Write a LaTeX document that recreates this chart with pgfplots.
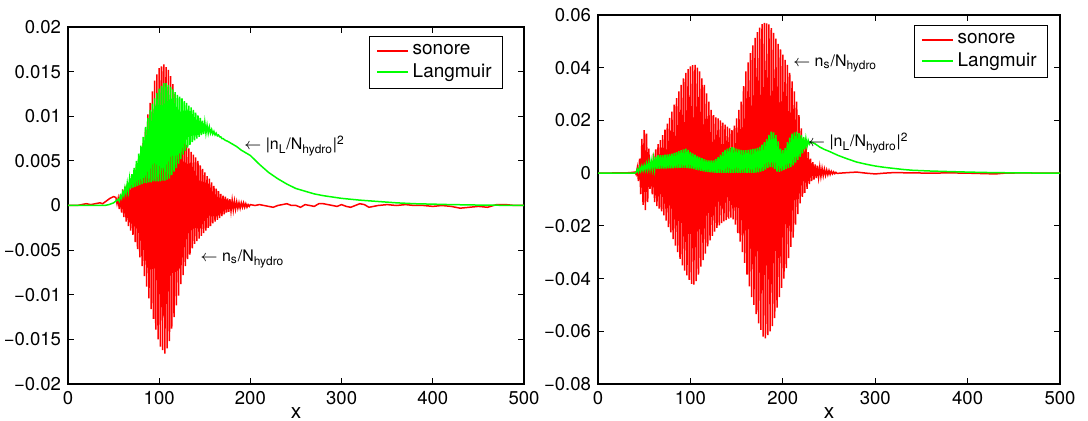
\documentclass[border=0pt]{standalone}
\usepackage{fontspec}
\setmainfont{TeX Gyre Heros}
\usepackage{pgfplots}
\pgfplotsset{compat=1.18}
\definecolor{mred}{RGB}{255,0,0}
\definecolor{mgreen}{RGB}{0,255,0}
\pgfplotsset{
  mstyle/.style={
    scale only axis, clip=true,
    xmin=0, xmax=500,
    xtick={0,100,200,300,400,500},
    xticklabels={0,100,200,300,400,500},
    scaled ticks=false,
    tick align=inside,
    major tick length=3bp,
    axis line style={line width=0.6bp},
    every tick/.style={black, line width=0.5bp},
    tick label style={font=\fontsize{9.3}{10}\selectfont},
    xlabel={x},
    xlabel style={font=\fontsize{10.5}{11}\selectfont, at={(axis description cs:0.5,0)}, anchor=base, yshift=-17bp},
    legend cell align=left,
    legend image code/.code={\draw[#1] (0bp,0bp) -- (15.5bp,0bp);},
    legend style={font=\fontsize{9.5}{10}\selectfont,
      inner xsep=3.5bp, inner ysep=2bp, row sep=-1bp, anchor=north east},
    every axis plot/.append style={line width=0.75bp},
  }
}
\begin{document}
\begin{tikzpicture}
\useasboundingbox (0,0) rectangle (544bp,210.5bp);
% ---------------- left panel ----------------
\begin{axis}[mstyle,
  at={(34bp,18.5bp)}, anchor=south west,
  width=228bp, height=178.5bp,
  ymin=-0.02, ymax=0.02,
  ytick={-0.02,-0.015,-0.01,-0.005,0,0.005,0.01,0.015,0.02},
  yticklabels={−0.02,−0.015,−0.01,−0.005,0,0.005,0.01,0.015,0.02},
  legend style={at={(0.954,0.975)}},
]
\addlegendimage{color=mred, line width=0.75bp}
\addlegendentry{sonore}
\addlegendimage{color=mgreen, line width=0.75bp}
\addlegendentry{Langmuir}
\addplot[color=mred, forget plot] coordinates {
(0,0) (5,0) (10,0) (15,0.0001) (20,0.0002) (25,0.0001) (30,0.0002) (35,0.0003) (38,0.0002) (42,0.0005) (46,0.0008) (50,0.001)
(52.5,0.0009) (53.75,0.0002) (55,0.0008) (56.25,-0.0004) (57.5,0.0012) (58.75,-0.0008) (60,0.0018) (61.25,-0.0013)
(62.5,0.0021) (63.75,-0.0018) (65,0.0024) (66.25,-0.0023) (67.5,0.0027) (68.75,-0.0028) (70,0.003) (71.25,-0.0033)
(72.5,0.0036) (73.75,-0.0041) (75,0.0043) (76.25,-0.0049) (77.5,0.0051) (78.75,-0.0058) (80,0.006) (81.25,-0.0068)
(82.5,0.007) (83.75,-0.0079) (85,0.0085) (86.25,-0.0091) (87.5,0.0102) (88.75,-0.0104) (90,0.0115) (91.25,-0.0116)
(92.5,0.0128) (93.75,-0.0127) (95,0.014) (96.25,-0.0139) (97.5,0.0147) (98.75,-0.015) (100,0.0154) (101.25,-0.0158)
(102.5,0.0156) (103.75,-0.0162) (105,0.0158) (106.25,-0.0166) (107.5,0.0155) (108.75,-0.016) (110,0.0152) (111.25,-0.0152)
(112.5,0.0145) (113.75,-0.0138) (115,0.0136) (116.25,-0.0125) (117.5,0.0125) (118.75,-0.0112) (120,0.011) (121.25,-0.0101)
(122.5,0.0098) (123.75,-0.0088) (125,0.0085) (126.25,-0.0078) (127.5,0.0076) (128.75,-0.0068) (130,0.0068) (131.25,-0.006)
(132.5,0.0064) (133.75,-0.0055) (135,0.006) (136.25,-0.0048) (137.5,0.0057) (138.75,-0.0043) (140,0.0054) (141.25,-0.004)
(142.5,0.005) (143.75,-0.0037) (145,0.0045) (146.25,-0.0034) (147.5,0.0041) (148.75,-0.0031) (150,0.0037) (151.25,-0.0028)
(152.5,0.0033) (153.75,-0.0025) (155,0.003) (156.25,-0.0023) (157.5,0.0026) (158.75,-0.002) (160,0.0022) (161.25,-0.0018)
(162.5,0.0019) (163.75,-0.0016) (165,0.0016) (166.25,-0.0014) (167.5,0.0013) (168.75,-0.0012) (170,0.0011) (171.25,-0.001)
(172.5,0.001) (173.75,-0.0008) (175,0.0008) (176.25,-0.0007) (177.5,0.0007) (178.75,-0.0006) (180,0.0006) (181.25,-0.0005)
(182.5,0.0005) (183.75,-0.0004) (185,0.0004) (186.25,-0.0003) (187.5,0.0003) (188.75,-0.0003) (190,0.0003) (191.25,-0.0002)
(192.5,0.0003) (193.75,-0.0002) (195,0.0002) (196.25,-0.0002) (197.5,0.0001) (198.75,-0.0001) (200,0.0001)
(205,0) (210,0.0001) (215,0) (220,-0.0001) (225,-0.0002) (230,0) (235,0.0001) (240,0.0002) (245,0) (250,0) (255,-0.0002)
(260,0.0001) (265,0) (270,-0.0001) (275,0.0002) (280,0.0002) (285,0.0001) (290,0) (295,-0.0001) (300,0.0001) (305,-0.0001)
(310,-0.0002) (315,0) (320,0.0002) (325,0.0001) (330,-0.0002) (335,-0.0001) (340,0) (350,0.0001) (360,0) (370,0.0001)
(380,0) (390,0) (400,-0.0001) (410,0) (420,-0.0001) (430,-0.0003) (440,-0.0002) (450,-0.0001) (460,-0.0002) (470,0.0001)
(480,0.0001) (490,0) (500,0)
};
\addplot[color=mgreen, forget plot] coordinates {
(0,0) (10,0) (20,0) (30,0) (40,0) (45,0.0001) (50,0.0003) (52.5,0.0005)
(55,0.0007) (56.25,0.0005) (57.5,0.0011) (58.75,0.0008) (60,0.0015) (61.25,0.0011) (62.5,0.002) (63.75,0.0014)
(65,0.0025) (66.25,0.0016) (67.5,0.003) (68.75,0.0019) (70,0.0035) (71.25,0.002) (72.5,0.0042) (73.75,0.0021)
(75,0.005) (76.25,0.0022) (77.5,0.0058) (78.75,0.0023) (80,0.0067) (81.25,0.0024) (82.5,0.0077) (83.75,0.0025)
(85,0.0088) (86.25,0.0025) (87.5,0.0098) (88.75,0.0026) (90,0.0107) (91.25,0.0026) (92.5,0.0114) (93.75,0.0027)
(95,0.012) (96.25,0.0027) (97.5,0.0126) (98.75,0.0027) (100,0.0131) (101.25,0.0027) (102.5,0.0134) (103.75,0.0028)
(105,0.0137) (106.25,0.0028) (107.5,0.0137) (108.75,0.0029) (110,0.0135) (111.25,0.003) (112.5,0.0133) (113.75,0.0034)
(115,0.013) (116.25,0.0038) (117.5,0.0127) (118.75,0.0042) (120,0.0124) (121.25,0.0047) (122.5,0.0122) (123.75,0.0052)
(125,0.012) (126.25,0.0057) (127.5,0.0117) (128.75,0.0061) (130,0.0115) (131.25,0.0065) (132.5,0.0112) (133.75,0.0068)
(135,0.011) (136.25,0.0071) (137.5,0.0107) (138.75,0.0073) (140,0.0104) (141.25,0.0075) (142.5,0.0101) (143.75,0.0077)
(145,0.0098) (146.25,0.0079) (147.5,0.0095) (148.75,0.008) (150,0.0093) (151.25,0.0081) (152.5,0.009) (153.75,0.0081)
(155,0.0088) (156.25,0.0081) (157.5,0.0085) (158.75,0.008) (160,0.0083) (161.25,0.0079) (162.5,0.0081) (163.75,0.0078)
(165,0.0079) (166.25,0.0077) (167.5,0.0077) (168.75,0.0075) (170,0.0075)
(172.5,0.0073) (175,0.0072) (180,0.0069) (185,0.0066) (190,0.0062) (195,0.0059) (200,0.0056) (210,0.0046) (220,0.0037)
(230,0.003) (240,0.0024) (250,0.0019) (260,0.0016) (270,0.0013) (280,0.0011) (290,0.00095) (300,0.0008) (320,0.0006)
(340,0.00045) (360,0.0003) (380,0.0002) (400,0.00015) (420,0.0001) (450,0.00005) (480,0.00002) (500,0)
};
\node[anchor=west, inner sep=0pt, font=\fontsize{8}{9}\selectfont] at (axis cs:193,0.0067)
  {$\leftarrow$ |n\textsubscript{L}/N\textsubscript{hydro}|\textsuperscript{2}};
\node[anchor=west, inner sep=0pt, font=\fontsize{8}{9}\selectfont] at (axis cs:145,-0.006)
  {$\leftarrow$ n\textsubscript{s}/N\textsubscript{hydro}};
\end{axis}
% ---------------- right panel ----------------
\begin{axis}[mstyle,
  at={(299bp,18.5bp)}, anchor=south west,
  width=231bp, height=184.5bp,
  ymin=-0.08, ymax=0.06,
  ytick={-0.08,-0.06,-0.04,-0.02,0,0.02,0.04,0.06},
  yticklabels={−0.08,−0.06,−0.04,−0.02,0,0.02,0.04,0.06},
  legend style={at={(0.974,0.973)}},
]
\addlegendimage{color=mred, line width=0.75bp}
\addlegendentry{sonore}
\addlegendimage{color=mgreen, line width=0.75bp}
\addlegendentry{Langmuir}
\addplot[color=mred, forget plot] coordinates {
(0,0) (10,0) (20,0.0001) (30,0.0001) (35,0.0002) (40,0.0004)
(41.25,-0.0005) (42.5,0.002) (43.75,-0.003) (45,0.0055) (46.25,-0.008) (47.5,0.013) (48.75,-0.012) (50,0.0163)
(51.25,-0.014) (52.5,0.015) (53.75,-0.011) (55,0.0093) (56.25,-0.006) (57.5,0.004) (58.75,-0.008) (60,0.0074)
(61.25,-0.011) (62.5,0.009) (63.75,-0.0125) (65,0.011) (66.25,-0.0135) (67.5,0.0125) (68.75,-0.0145) (70,0.0144)
(71.25,-0.016) (72.5,0.0165) (73.75,-0.018) (75,0.0188) (76.25,-0.0205) (77.5,0.021) (78.75,-0.0225) (80,0.0233)
(81.25,-0.025) (82.5,0.026) (83.75,-0.0275) (85,0.0285) (86.25,-0.03) (87.5,0.031) (88.75,-0.0325) (90,0.0335)
(91.25,-0.035) (92.5,0.036) (93.75,-0.037) (95,0.038) (96.25,-0.0388) (97.5,0.0395) (98.75,-0.0405) (100,0.0405)
(101.25,-0.042) (102.5,0.041) (103.75,-0.0423) (105,0.0411) (106.25,-0.041) (107.5,0.04) (108.75,-0.0385) (110,0.0386)
(111.25,-0.0355) (112.5,0.036) (113.75,-0.033) (115,0.0335) (116.25,-0.0305) (117.5,0.0303) (118.75,-0.0278) (120,0.0271)
(121.25,-0.0255) (122.5,0.024) (123.75,-0.0238) (125,0.022) (126.25,-0.0222) (127.5,0.0212) (128.75,-0.0208) (130,0.0208)
(131.25,-0.0198) (132.5,0.02) (133.75,-0.019) (135,0.0192) (136.25,-0.0183) (137.5,0.0184) (138.75,-0.0178) (140,0.0176)
(141.25,-0.0173) (142.5,0.017) (143.75,-0.0169) (145,0.0163) (146.25,-0.0175) (147.5,0.018) (148.75,-0.0195) (150,0.0208)
(151.25,-0.0228) (152.5,0.024) (153.75,-0.026) (155,0.0271) (156.25,-0.03) (157.5,0.033) (158.75,-0.034) (160,0.0386)
(161.25,-0.0385) (162.5,0.042) (163.75,-0.043) (165,0.0455) (166.25,-0.047) (167.5,0.0485) (168.75,-0.05) (170,0.0513)
(171.25,-0.0535) (172.5,0.0535) (173.75,-0.057) (175,0.0552) (176.25,-0.0595) (177.5,0.0565) (178.75,-0.062) (180,0.057)
(181.25,-0.0627) (182.5,0.0568) (183.75,-0.0615) (185,0.0564) (186.25,-0.06) (187.5,0.055) (188.75,-0.058) (190,0.0532)
(191.25,-0.055) (192.5,0.051) (193.75,-0.051) (195,0.049) (196.25,-0.047) (197.5,0.047) (198.75,-0.0435) (200,0.045)
(201.25,-0.04) (202.5,0.043) (203.75,-0.036) (205,0.0411) (206.25,-0.0322) (207.5,0.038) (208.75,-0.028) (210,0.0348)
(211.25,-0.0245) (212.5,0.031) (213.75,-0.0195) (215,0.0271) (216.25,-0.0155) (217.5,0.022) (218.75,-0.0115) (220,0.017)
(221.25,-0.009) (222.5,0.0135) (223.75,-0.0075) (225,0.0106) (226.25,-0.006) (227.5,0.008) (228.75,-0.0042) (230,0.0055)
(231.25,-0.003) (232.5,0.0042) (233.75,-0.0024) (235,0.0033) (236.25,-0.0019) (237.5,0.0028) (238.75,-0.0016) (240,0.0023)
(241.25,-0.0013) (242.5,0.0018) (243.75,-0.001) (245,0.0015) (246.25,-0.0008) (247.5,0.0012) (248.75,-0.0006) (250,0.001)
(251.25,-0.0005) (252.5,0.0007) (253.75,-0.0003) (255,0.0005) (256.25,-0.0002) (257.5,0.0003) (258.75,-0.0001)
(262,0) (270,0.0002) (280,0.0004) (290,0) (300,-0.0003) (310,0) (320,0.0002) (340,0.0001) (360,0) (380,0.0001)
(400,0) (420,-0.0002) (430,-0.0003) (440,0) (460,0.0001) (480,0) (500,0)
};
\addplot[color=mgreen, forget plot] coordinates {
(0,0) (20,0) (40,0) (41.25,0.0003) (42.5,0.0015) (43.75,0.0005) (45,0.0023) (46.25,0.0008) (47.5,0.0027) (48.75,0.001)
(50,0.003) (51.25,0.0012) (52.5,0.0036) (53.75,0.0013) (55,0.0042) (56.25,0.0014) (57.5,0.0048) (58.75,0.0015)
(60,0.0055) (61.25,0.0015) (62.5,0.0062) (63.75,0.0016) (65,0.0068) (66.25,0.0016) (67.5,0.0068) (68.75,0.0017)
(70,0.0068) (71.25,0.0017) (72.5,0.007) (73.75,0.0017) (75,0.0071) (76.25,0.0018) (77.5,0.0072) (78.75,0.0018)
(80,0.0074) (81.25,0.0018) (82.5,0.0077) (83.75,0.0019) (85,0.008) (86.25,0.0019) (87.5,0.0083) (88.75,0.002)
(90,0.0087) (91.25,0.002) (92.5,0.009) (93.75,0.002) (95,0.0093) (96.25,0.0019) (97.5,0.0088) (98.75,0.0018)
(100,0.008) (101.25,0.0017) (102.5,0.0075) (103.75,0.0015) (105,0.007) (106.25,0.0013) (107.5,0.0065) (108.75,0.0011)
(110,0.0061) (111.25,0.0009) (112.5,0.0057) (113.75,0.0007) (115,0.0053) (116.25,0.0005) (117.5,0.005) (118.75,0.0004)
(120,0.0048) (121.25,0.0003) (122.5,0.0048) (123.75,0.0002) (125,0.0048) (126.25,0.0001) (127.5,0.0054) (128.75,0.0001)
(130,0.0061) (131.25,0.0001) (132.5,0.007) (133.75,0.0001) (135,0.008) (136.25,0.0001) (137.5,0.0088) (138.75,0.0001)
(140,0.0093) (141.25,0.0001) (142.5,0.0097) (143.75,0.0001) (145,0.0099) (146.25,0.0001) (147.5,0.0097) (148.75,0.0001)
(150,0.0093) (151.25,0.0001) (152.5,0.009) (153.75,0.0001) (155,0.0088) (156.25,0.0001) (157.5,0.0087) (158.75,0.0001)
(160,0.0087) (161.25,0.0001) (162.5,0.0088) (163.75,0.0001) (165,0.009) (166.25,0.0001) (167.5,0.0092) (168.75,0.0001)
(170,0.0093) (171.25,0.0002) (172.5,0.0096) (173.75,0.0003) (175,0.01) (176.25,0.0006) (177.5,0.0108) (178.75,0.0009)
(180,0.0118) (181.25,0.0013) (182.5,0.013) (183.75,0.002) (185,0.0145) (186.25,0.0024) (187.5,0.0157) (188.75,0.0022)
(190,0.0155) (191.25,0.0015) (192.5,0.0144) (193.75,0.0006) (195,0.012) (196.25,0.0005) (197.5,0.0093) (198.75,0.0008)
(200,0.0087) (201.25,0.0012) (202.5,0.0095) (203.75,0.0016) (205,0.0118) (206.25,0.002) (207.5,0.0135) (208.75,0.0023)
(210,0.015) (211.25,0.003) (212.5,0.0155) (213.75,0.004) (215,0.0157) (216.25,0.005) (217.5,0.0152) (218.75,0.0062)
(220,0.0144) (221.25,0.0075) (222.5,0.0137) (223.75,0.009) (225,0.0131) (226.25,0.0102) (227.5,0.0124) (228.75,0.011)
(230,0.0118) (232,0.0116) (235,0.0111) (240,0.0099) (245,0.009) (250,0.0083) (255,0.0075) (260,0.0067) (270,0.0054)
(280,0.0042) (290,0.0034) (300,0.0027) (310,0.0022) (320,0.0018) (330,0.0014) (340,0.0011) (350,0.00095) (360,0.0008)
(380,0.0006) (400,0.0004) (420,0.00025) (450,0.0001) (480,0.00003) (500,0)
};
\node[anchor=west, inner sep=0pt, font=\fontsize{8}{9}\selectfont] at (axis cs:211,0.0415)
  {$\leftarrow$ n\textsubscript{s}/N\textsubscript{hydro}};
\node[anchor=west, inner sep=0pt, font=\fontsize{8}{9}\selectfont] at (axis cs:227,0.0115)
  {$\leftarrow$ |n\textsubscript{L}/N\textsubscript{hydro}|\textsuperscript{2}};
\end{axis}
\end{tikzpicture}
\end{document}
